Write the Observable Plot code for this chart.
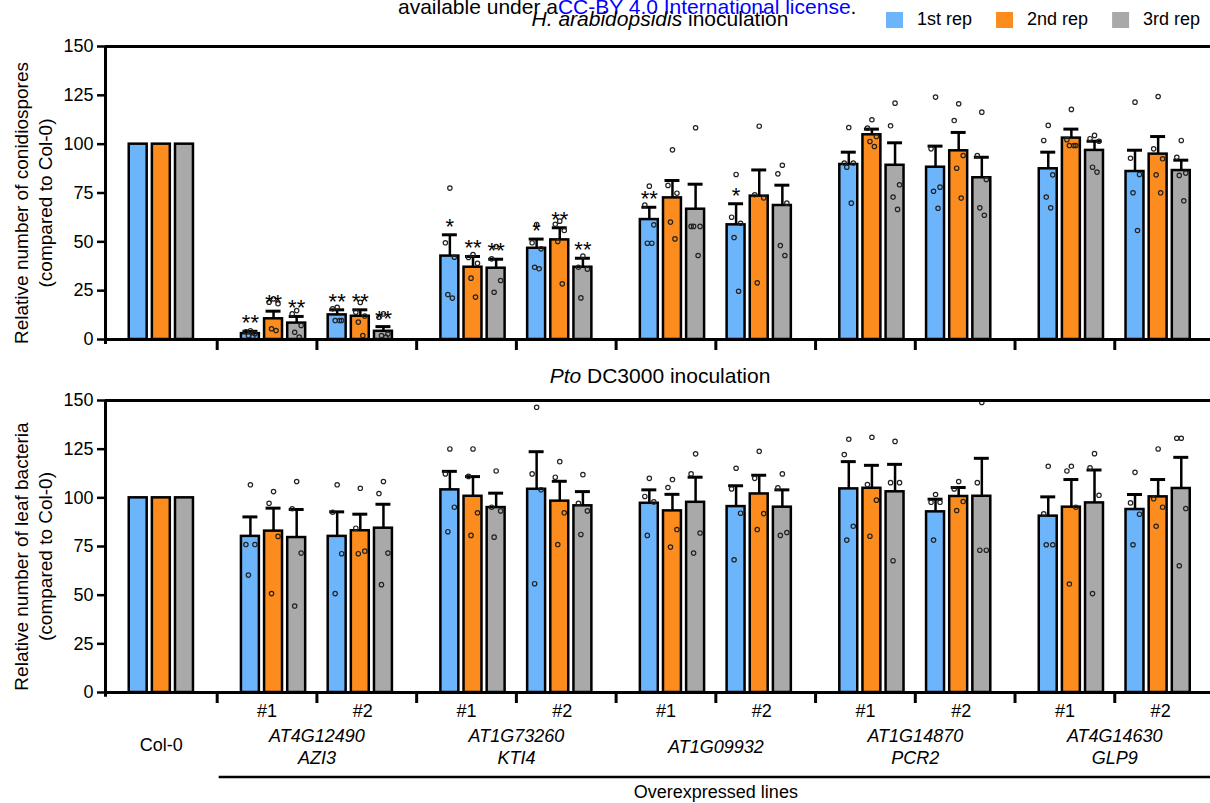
<!DOCTYPE html>
<html><head><meta charset="utf-8">
<script src="https://cdn.jsdelivr.net/npm/d3@7"></script>
<script src="https://cdn.jsdelivr.net/npm/@observablehq/plot@0.6"></script>
<style>
body{margin:0;background:#fff;}
#wrap{position:relative;width:1210px;height:803px;overflow:hidden;font-family:"Liberation Sans",Arial,sans-serif;}
#top,#bottom{position:absolute;left:0;}
#top{top:0}
#bottom{top:360px}
#overlay{position:absolute;left:0;top:0;}
</style></head><body>
<div id="wrap"><div id="top"></div><div id="bottom"></div><svg id="overlay" width="1210" height="803"></svg></div>
<script>
// ---------- data ----------
const reps = ["1st rep", "2nd rep", "3rd rep"];
const repColors = ["#6db5fb", "#fb8c1d", "#a9a9a9"];
const lineLabels = ["Col-0", "#1", "#2", "#1", "#2", "#1", "#2", "#1", "#2", "#1", "#2"];
const geneIds = ["AT4G12490", "AT1G73260", "AT1G09932", "AT1G14870", "AT4G14630"];
const geneNames = ["AZI3", "KTI4", "", "PCR2", "GLP9"];
const yTicks = [0, 25, 50, 75, 100, 125, 150];

// H. arabidopsidis: relative number of conidiospores
const hpaMean = [[100,100,100],[3,10.6,8.4],[12.6,11.9,4.2],[42.7,37,36.5],[46.7,51,37],[61.4,72.5,66.7],[58.7,73.4,68.6],[89.6,104.8,89.2],[88.2,96.6,82.8],[87.4,103.1,96.8],[86,94.9,86.5]];
const hpaErr = [[0,0,0],[1.2,3.9,3.4],[2.6,3.3,2.4],[10.9,5.5,4.6],[4.7,6.2,4.6],[6.3,8.9,12.8],[10.8,13.4,10.4],[6.3,2.9,11.5],[10.8,9.4,10.5],[8.5,4.6,4.7],[10.9,9,5.3]];
const hpaStars = [["","",""],["**","**","**"],["**","**","**"],["*","**","**"],["*","**","**"],["**","",""],["*","",""],["","",""],["","",""],["","",""],["","",""]];
const hpaDots = [
  [[],[],[]],
  [[4.5,4,3,2,1.5],[20.8,19.1,18.3,5.5,4.6],[14.8,13.1,7.2,3.7,1.2]],
  [[16.5,15.7,9.7,9.7,9.7],[19,14,12,8.9,2],[13.1,11.4,2.8,2,1.2]],
  [[77.5,49.5,42.1,23,21.2],[43.5,42,39,31.4,21.7],[47.6,41.3,30.2,24.2]],
  [[58.9,49.5,46.4,37,36.2],[60.6,59,55.8,50.2,28.5],[42.7,37,36,21.3]],
  [[78.5,68.8,58.7,49.3,49.3],[97.1,78.9,74.9,60.1,51.5],[108.4,57.9,57.9,57.9,43]],
  [[84.5,62.6,59.5,52.2,24.7],[109.2,74.1,72.5,29],[89.2,84.8,69.8,48.1,43]],
  [[108.5,90.3,90.3,88.2,69.8],[112.5,108.2,103.9,101.4,98.8],[121,109.4,79.2,72.9,66.6]],
  [[124.1,97.6,78,75.9,67.2],[120.7,112.1,94.2,87.7,72.4],[116.4,94.2,81.9,67.4,63.6]],
  [[109.6,101.9,84.3,72.9,67.4],[117.8,102.3,99.3,99.3,99.3],[104.5,102.8,101.5,88.2,85.7]],
  [[121.5,92.8,84.5,75.1,55.8],[124.4,97.6,92.5,84.3,75.1],[101.9,93.3,85.2,84,71]]
];

// Pto DC3000: relative number of leaf bacteria
const ptoMean = [[100,100,100],[80.2,82.9,79.6],[80.2,83.1,84.4],[104.1,100.8,95],[104.4,98.3,95.9],[97.2,93.3,97.7],[95.5,102,95.2],[104.6,104.9,103.1],[92.8,100.7,100.8],[90.6,95.2,97.4],[94,100.5,104.8]];
const ptoErr = [[0,0,0],[10,11.8,14.4],[12.6,8.5,12.3],[9.5,10.1,7.4],[19.3,10.2,7.3],[6.9,8.5,12.9],[10.7,9.6,8.9],[14,11.8,14.1],[6.5,4.6,19.5],[9.9,14.2,16.9],[7.7,8.9,16]];
const ptoDots = [
  [[],[],[]],
  [[106.7,76,76,60.3],[103.2,97.2,80.2,50.8],[108.4,94.4,71.6,44.4]],
  [[106.7,92.6,71.3,50.8],[104.9,84.4,72.6,71.3],[108.4,102.2,71.6,55.4]],
  [[125.1,112.3,95.2,82.6],[125.1,111,92.3,80.7],[113.8,95.2,93.3,79.8]],
  [[146.5,112.3,104.1,55.9],[118.6,110.6,92.3,76],[111.9,97.2,93.3,81.2]],
  [[110,100.7,97.9,80.7],[109.4,105.3,83.7,74.7],[122.6,112.3,81.9,71.6]],
  [[115.2,104.6,92.1,68.2],[123.9,110,91.9,83.7],[112.3,105.1,82.2,80.7]],
  [[130.1,122.2,85.4,78.3],[131.1,106.8,98.8,80.3],[129,107.8,107.8,67.7]],
  [[101.7,97.7,97.7,78.3],[108.4,104.6,98.1,93.5],[149,107.8,73.1,73.1]],
  [[116.2,91.8,75.9,75.9],[116.2,113.8,95.2,55.7],[122.7,115.4,101.3,50.8]],
  [[113.1,97.4,91.6,75.9],[125.1,99.5,95.2,85.4],[130.6,130.6,94.5,65.1]]
];

// ---------- layout ----------
const FONT = "Liberation Sans, Arial, sans-serif";
const X_DOMAIN = [-1.12, 9.96];
const REP_STEP = 0.232, BAR_HALF = 0.09, CAP_HALF = 0.075;
const JITTER = [0.0, -0.045, 0.045, -0.02, 0.025];
function center(i) {
  if (i === 0) return -0.56;
  const g = Math.floor((i - 1) / 2), k = (i - 1) % 2;
  return 2 * g + (k === 0 ? 0.565 : 1.435);
}
function buildBars(means, errs, stars) {
  const out = [];
  means.forEach((m, i) => m.forEach((v, r) => {
    const e = errs[i][r];
    out.push({line: i, rep: reps[r], c: center(i) + (r - 1) * REP_STEP, mean: v, err: e, top: v + e, star: stars ? stars[i][r] : ""});
  }));
  return out;
}
function buildDots(dots) {
  const out = [];
  dots.forEach((rs, i) => rs.forEach((vals, r) => vals.forEach((v, j) => {
    out.push({x: center(i) + (r - 1) * REP_STEP + JITTER[j % JITTER.length], v});
  })));
  return out;
}

function panel({means, errs, stars, dots, yLabel, height, marginTop, marginBottom, extra}) {
  const bars = buildBars(means, errs, stars);
  const withErr = bars.filter(d => d.err > 0);
  return Plot.plot({
    width: 1210, height, marginLeft: 105, marginRight: 0, marginTop, marginBottom,
    style: {fontFamily: FONT, fontSize: "18px", color: "black", background: "white", overflow: "visible"},
    x: {domain: X_DOMAIN},
    y: {domain: [0, 150]},
    color: {domain: reps, range: repColors},
    marks: [
      Plot.rect(bars, {x1: d => d.c - BAR_HALF, x2: d => d.c + BAR_HALF, y1: () => 0, y2: "mean", fill: "rep", stroke: "black", strokeWidth: 2.5}),
      Plot.ruleX(withErr, {x: "c", y1: "mean", y2: "top", stroke: "black", strokeWidth: 2.5}),
      Plot.ruleY(withErr, {y: "top", x1: d => d.c - CAP_HALF, x2: d => d.c + CAP_HALF, stroke: "black", strokeWidth: 3}),
      Plot.dot(buildDots(dots), {x: "x", y: "v", r: 2.2, stroke: "#222", strokeWidth: 1.2, fill: "none"}),
      Plot.text(bars.filter(d => d.star), {x: "c", y: "top", text: "star", lineAnchor: "bottom", dy: -1, fontSize: 22}),
      Plot.ruleY([150], {stroke: "black", strokeWidth: 3}),
      Plot.ruleY([0], {stroke: "black", strokeWidth: 3}),
      Plot.ruleX([X_DOMAIN[0]], {y1: -2.5, y2: 150, stroke: "black", strokeWidth: 3}),
      Plot.axisY({ticks: yTicks, tickSize: 8, tickPadding: 4, fontSize: 18, strokeWidth: 2.5, label: null}),
      Plot.axisX({ticks: d3.range(0, 10), tickSize: 11, tickFormat: () => "", strokeWidth: 3, label: null}),
      Plot.text([yLabel], {frameAnchor: "left", text: d => d, rotate: -90, dx: -73, dy: 10, lineAnchor: "middle", lineHeight: 1.263, fontSize: 19, textAnchor: "middle"}),
      ...(extra || [])
    ]
  });
}

const hashIdx = d3.range(1, 11);
const geneIdx = d3.range(0, 5);
const bottomLabels = [
  Plot.text(hashIdx, {x: i => { const g = Math.floor((i - 1) / 2); return (i - 1) % 2 === 0 ? 2 * g + 0.5 : 2 * g + 1.46; }, text: i => lineLabels[i], frameAnchor: "bottom", lineAnchor: "bottom", dy: 24, fontSize: 18}),
  Plot.text(geneIdx, {x: g => 2 * g + 1, text: g => geneNames[g] ? geneIds[g] + "\n" + geneNames[g] : geneIds[g], frameAnchor: "bottom", lineAnchor: "middle", dy: 53, lineHeight: 1.22, fontSize: 18, fontStyle: "italic"}),
  Plot.text([0], {x: () => center(0), text: () => lineLabels[0], frameAnchor: "bottom", lineAnchor: "middle", dy: 53, fontSize: 18}),
  Plot.ruleY([0], {x1: 0.02, x2: 10.5, dy: 84.5, stroke: "black", strokeWidth: 2.5}),
  Plot.text(["Overexpressed lines"], {x: () => 5, text: d => d, frameAnchor: "bottom", lineAnchor: "bottom", dy: 105, fontSize: 18})
];

document.getElementById("top").append(panel({
  means: hpaMean, errs: hpaErr, stars: hpaStars, dots: hpaDots,
  yLabel: "Relative number of conidiospores\n(compared to Col-0)",
  height: 360, marginTop: 46, marginBottom: 21
}));
document.getElementById("bottom").append(panel({
  means: ptoMean, errs: ptoErr, stars: null, dots: ptoDots,
  yLabel: "Relative number of leaf bacteria\n(compared to Col-0)",
  height: 443, marginTop: 40, marginBottom: 111, extra: bottomLabels
}));

// ---------- titles, watermark, legend ----------
const ov = d3.select("#overlay").style("font-family", FONT);
const wm = ov.append("text").attr("x", 398).attr("y", 14).attr("font-size", 21).attr("fill", "black");
wm.append("tspan").text("available under a");
wm.append("tspan").attr("fill", "#0000ff").text("CC-BY 4.0 International license");
wm.append("tspan").text(".");
const t1 = ov.append("text").attr("x", 660).attr("y", 26).attr("font-size", 21).attr("text-anchor", "middle");
t1.append("tspan").attr("font-style", "italic").text("H. arabidopsidis");
t1.append("tspan").text(" inoculation");
const t2 = ov.append("text").attr("x", 660).attr("y", 383).attr("font-size", 21).attr("text-anchor", "middle");
t2.append("tspan").attr("font-style", "italic").text("Pto");
t2.append("tspan").text(" DC3000 inoculation");
let lx = 886;
reps.forEach((r, i) => {
  ov.append("rect").attr("x", lx).attr("y", 12).attr("width", 17).attr("height", 16).attr("fill", repColors[i]);
  const t = ov.append("text").attr("x", lx + 31).attr("y", 25).attr("font-size", 18).text(r);
  lx += 31 + t.node().getComputedTextLength() + 24;
});
</script>
</body></html>
